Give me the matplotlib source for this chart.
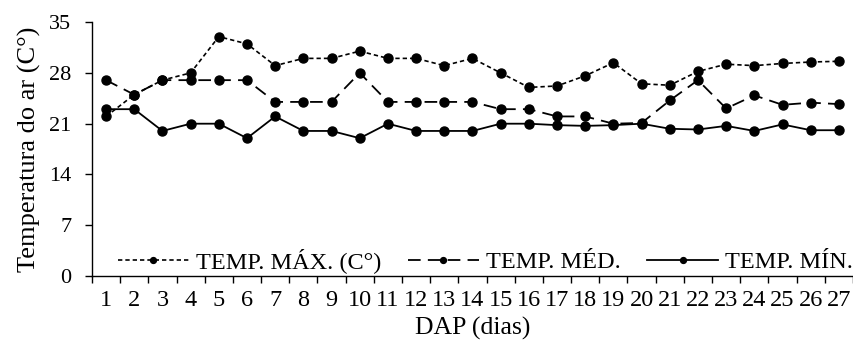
import matplotlib
matplotlib.use("Agg")
import matplotlib.pyplot as plt
import numpy as np

days = list(range(1, 28))
temp_max = [22, 25, 27, 28, 33, 32, 29, 30, 30, 31, 30, 30, 29, 30, 28, 26, 26.2, 27.6, 29.4, 26.5, 26.3, 28.2, 29.2, 29.0, 29.3, 29.5, 29.6]
temp_med = [27, 25, 27, 27, 27, 27, 24, 24, 24, 28, 24, 24, 24, 24, 23, 23, 22, 22, 21, 21.1, 24.2, 27, 23.1, 24.9, 23.6, 23.9, 23.7]
temp_min = [23, 23, 20, 21, 21, 19, 22, 20, 20, 19, 21, 20, 20, 20, 21, 21, 20.8, 20.7, 20.8, 21.0, 20.3, 20.2, 20.7, 20.0, 20.9, 20.1, 20.1]
labels = ["TEMP. MÁX. (C°)", "TEMP. MÉD.", "TEMP. MÍN."]
yticks = [0, 7, 14, 21, 28, 35]

plt.rcParams['font.family'] = ['Liberation Serif', 'DejaVu Serif']

fig = plt.figure(figsize=(8.54, 3.40), dpi=100)
ax = fig.add_axes([0.1077, 0.188, 0.8911, 0.747])

ms = 6.5
ax.plot(days, temp_max, color='black', lw=1.2, ls=(0, (2.6, 1.8)), marker='o', ms=ms, label=labels[0])
ax.plot(days, temp_med, color='black', lw=1.3, ls=(0, (7, 4)), marker='o', ms=ms, label=labels[1])
ax.plot(days, temp_min, color='black', lw=1.3, ls='-', marker='o', ms=ms, label=labels[2])

ax.set_xlim(0.5, 27.5)
ax.set_ylim(0, 35)
ax.set_yticks(yticks)
ax.set_xticks(days)
ax.set_xticklabels([str(d) for d in days])
ax.set_xticks(np.arange(0.5, 28, 1), minor=True)
ax.tick_params(axis='x', which='major', length=0, labelsize=17.5, pad=10)
ax.tick_params(axis='x', which='minor', length=5, direction='out', width=1)
ax.tick_params(axis='y', length=5, direction='out', width=1, labelsize=16, pad=10)
for s in ['top', 'right']:
    ax.spines[s].set_visible(False)
for s in ['left', 'bottom']:
    ax.spines[s].set_linewidth(1)

ax.set_xlabel("DAP (dias)", fontsize=18.5, labelpad=4)
ax.set_ylabel("Temperatura do ar (C°)", fontsize=19, labelpad=6)

leg = ax.legend(loc='lower right', bbox_to_anchor=(1.0, 0.012), ncol=3, frameon=False,
                fontsize=17.5, handlelength=2.9, columnspacing=1.1, handletextpad=0.3,
                borderaxespad=0, borderpad=0, markerscale=0.65)

fig.savefig("out.png", dpi=100)
